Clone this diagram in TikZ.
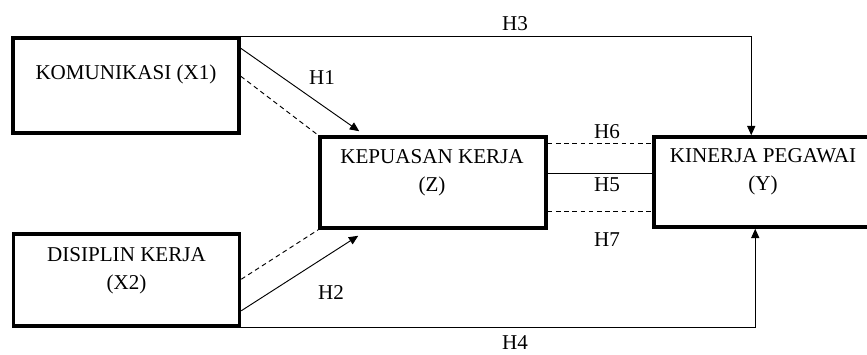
\documentclass[tikz,border=0pt]{standalone}
\usepackage{fontspec}
\setmainfont{Liberation Serif}
\usepackage{tikz}
\usetikzlibrary{arrows.meta,positioning,calc}

\begin{document}
\begin{tikzpicture}[
  x=0.03cm, y=-0.03cm,
  box/.style={rectangle, draw, line width=3pt, minimum width=6.78cm,
    minimum height=#1},
  txt/.style={align=center, font=\fontsize{18}{24}\selectfont, inner sep=0pt},
  lbl/.style={font=\fontsize{18}{22}\selectfont, inner sep=0pt},
  arr/.style={-{Triangle[length=8pt,width=7pt]}, line width=0.8pt},
  ln/.style={line width=0.8pt},
  dsh/.style={line width=0.8pt, dash pattern=on 4pt off 3pt}
]
\useasboundingbox (0,0) rectangle (867,354);
\clip (0,0) rectangle (867,354);
% Boxes
\node[box=2.85cm] (x1) at (126,85.5) {};
\node[box=2.76cm] (x2) at (126.5,280) {};
\node[box=2.73cm] (z) at (433,182.5) {};
\node[box=2.70cm] (y) at (767,182) {};
\node[txt] (x1t) at ($(x1.center)+(0,-11)$) {KOMUNIKASI (X1)};
\node[txt] (x2t) at ($(x2.center)+(0,-9)$) {DISIPLIN KERJA\\(X2)};
\node[txt] (zt) at ($(z.center)+(-1,-10)$) {KEPUASAN KERJA\\(Z)};
\node[txt] (yt) at ($(y.center)+(-4,-10)$) {KINERJA PEGAWAI\\(Y)};
% Direct paths
\draw[arr] ($(x1.north east)+(0,12)$) -- ($(z.north west)+(41,-4)$);
\draw[dsh] ($(x1.north east)+(0,40)$) -- (z.north west);
\draw[arr] ($(x2.south east)+(0,-17)$) -- ($(z.south west)+(40,6)$);
\draw[dsh] ($(x2.north east)+(0,47)$) -- (z.south west);
\draw[arr] (x1.north east) -| ($(y.north west)+(99,0)$);
\draw[arr] (x2.south east) -| ($(y.south west)+(103,0)$);
% Z to Y
\coordinate (h6) at ($(z.north east)+(0,8)$);
\coordinate (h5) at ($(z.north east)+(0,38)$);
\coordinate (h7) at ($(z.north east)+(0,76)$);
\draw[dsh] (h6) -- (h6 -| y.west);
\draw[ln] (h5) -- (h5 -| y.west);
\draw[dsh] (h7) -- (h7 -| y.west);
% Labels
\node[lbl] (l1) at (322,78) {H1};
\node[lbl] (l2) at (331,293) {H2};
\node[lbl] (l3) at (515,24) {H3};
\node[lbl] (l4) at (515,343) {H4};
\node[lbl] (l6) at (607,132) {H6};
\node[lbl] (l5) at (607,185) {H5};
\node[lbl] (l7) at (607,240) {H7};
\end{tikzpicture}
\end{document}
